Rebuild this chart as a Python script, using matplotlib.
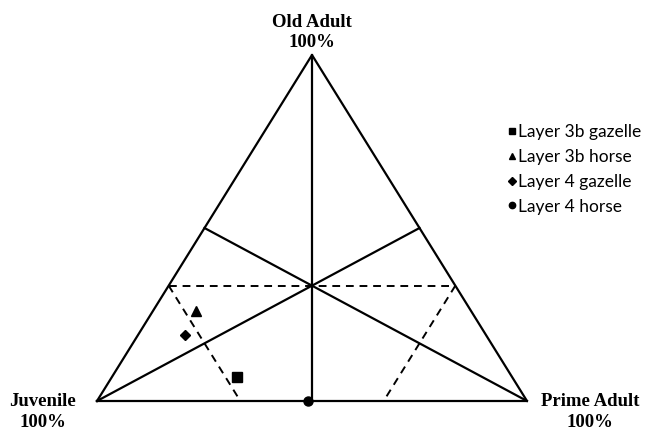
import matplotlib.pyplot as plt

# mortality profile: percentages of juvenile, prime adult and old adult
series = ['Layer 3b gazelle', 'Layer 3b horse', 'Layer 4 gazelle', 'Layer 4 horse']
juvenile = [64, 64, 70, 51]
prime = [29, 10, 11, 49]
old = [7, 26, 19, 0]
markers = ['s', '^', 'D', 'o']


def tern(j, p, o):
    # ternary -> plane: x along the base (juvenile left, prime right), y = old
    s = j + p + o
    p, o = 100.0 * p / s, 100.0 * o / s
    return p + o / 2.0, o


fig = plt.figure(figsize=(6.46, 4.33), dpi=100)
ax = fig.add_axes([97 / 646, 32 / 433, 430 / 646, 346 / 433])
ax.set_xlim(0, 100)
ax.set_ylim(0, 100)
ax.axis('off')

lw = 1.6
# outline
tri = [tern(100, 0, 0), tern(0, 100, 0), tern(0, 0, 100), tern(100, 0, 0)]
ax.plot([t[0] for t in tri], [t[1] for t in tri], color='black', lw=lw, clip_on=False)

# medians: each corner to the middle of the opposite side
for a, b in [((0, 0, 100), (50, 50, 0)),
             ((100, 0, 0), (0, 50, 50)),
             ((0, 100, 0), (50, 0, 50))]:
    p1, p2 = tern(*a), tern(*b)
    ax.plot([p1[0], p2[0]], [p1[1], p2[1]], color='black', lw=lw, clip_on=False)

# dashed zone boundaries at two thirds / one third
third = 100 / 3.0
for a, b in [((200 / 3.0, 0, third), (0, 200 / 3.0, third)),
             ((200 / 3.0, 0, third), (200 / 3.0, third, 0)),
             ((0, 200 / 3.0, third), (third, 200 / 3.0, 0))]:
    p1, p2 = tern(*a), tern(*b)
    ax.plot([p1[0], p2[0]], [p1[1], p2[1]], color='black', lw=1.4,
            ls=(0, (4, 3)), clip_on=False)

sizes = {'s': 7, '^': 7, 'D': 5.5, 'o': 6.5}
for name, j, p, o, m in zip(series, juvenile, prime, old, markers):
    x, y = tern(j, p, o)
    ax.plot(x, y, marker=m, ls='none', color='black', ms=sizes[m],
            label=name, clip_on=False, zorder=5)

serif = dict(family='Liberation Serif', weight='bold', fontsize=13.5,
             ha='center', va='center', linespacing=1.3)
ax.text(50, 106.5, 'Old Adult\n100%', **serif)
ax.text(-12.6, -3.3, 'Juvenile\n100%', **serif)
ax.text(114.7, -3.3, 'Prime Adult\n100%', **serif)

leg = fig.legend(loc='upper left', bbox_to_anchor=(505 / 646, 1 - 121 / 433),
                 frameon=False, handlelength=0.45, handletextpad=0.1,
                 labelspacing=0.5, markerscale=0.7,
                 borderaxespad=0, borderpad=0.2,
                 prop={'family': 'Lato', 'size': 12.5})

fig.savefig('out.png', dpi=100, facecolor='white')
